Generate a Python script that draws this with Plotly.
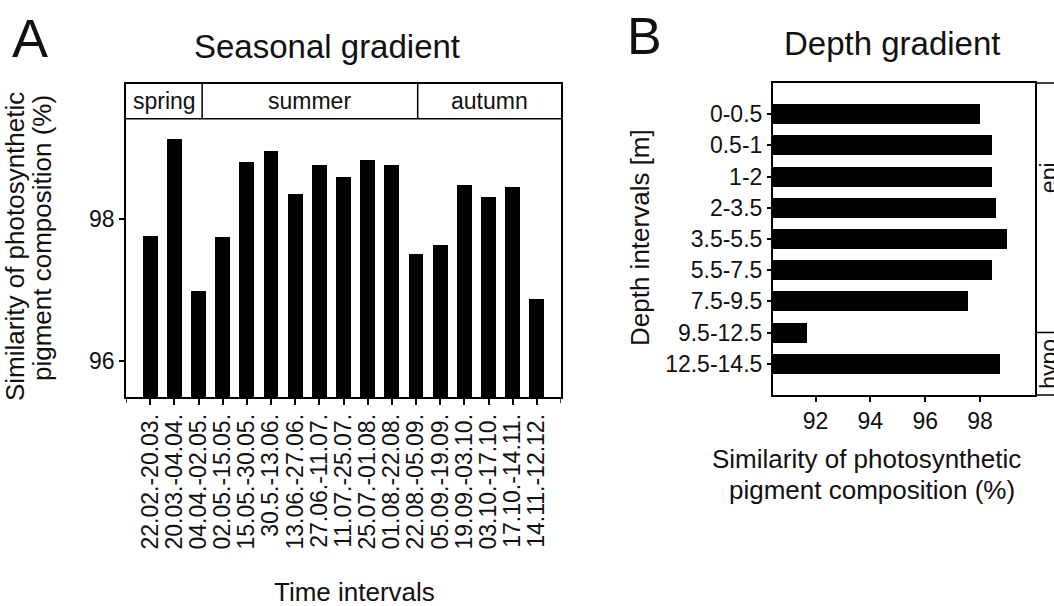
import plotly.graph_objects as go

# ---------------- data ----------------
time_intervals = ["22.02.-20.03.", "20.03.-04.04.", "04.04.-02.05.", "02.05.-15.05.",
                  "15.05.-30.05.", "30.5.-13.06.", "13.06.-27.06.", "27.06.-11.07.",
                  "11.07.-25.07.", "25.07.-01.08.", "01.08.-22.08.", "22.08.-05.09.",
                  "05.09.-19.09.", "19.09.-03.10.", "03.10.-17.10.", "17.10.-14.11.",
                  "14.11.-12.12."]
seasonal_similarity = [97.77, 99.13, 96.99, 97.75, 98.81, 98.97, 98.36, 98.76, 98.60,
                       98.84, 98.76, 97.51, 97.63, 98.49, 98.31, 98.46, 96.88]

seasons = ["spring", "summer", "autumn"]
season_bounds = [-1, 2.15, 11.07, 17]   # in category-index units

depth_intervals = ["0-0.5", "0.5-1", "1-2", "2-3.5", "3.5-5.5", "5.5-7.5",
                   "7.5-9.5", "9.5-12.5", "12.5-14.5"]
depth_similarity = [98.0, 98.42, 98.42, 98.56, 98.97, 98.42, 97.53, 91.67, 98.70]

strata = ["epi", "hypo"]
strata_label_pos = [2.05, 8.0]
strata_boundary = 7.0

seasonal_ticks = [96, 98]
depth_ticks = [92, 94, 96, 98]

# ---------------- layout helpers ----------------
W, H = 1054, 606
def px(x):
    return x / W
def py(y):
    return 1 - y / H

FONT = "Arial, 'Liberation Sans', sans-serif"
INK = "#111111"
LW = 1.5

fig = go.Figure()

fig.add_trace(go.Bar(x=time_intervals, y=seasonal_similarity, width=0.62,
                     marker=dict(color="black", line=dict(width=0)),
                     xaxis="x", yaxis="y", showlegend=False))
fig.add_trace(go.Bar(x=depth_similarity, y=depth_intervals, orientation="h", width=0.64,
                     marker=dict(color="black", line=dict(width=0)),
                     xaxis="x2", yaxis="y2", showlegend=False))

A_left, A_right, A_top, A_bottom = 126, 561, 84, 397
B_left, B_right, B_top, B_bottom = 772.7, 1035, 83, 395

y_lo, y_strip, y_hi = 95.49, 99.42, 99.91

fig.update_layout(
    width=W, height=H, autosize=False,
    margin=dict(l=0, r=0, t=0, b=0),
    paper_bgcolor="white", plot_bgcolor="white",
    font=dict(family=FONT, color=INK, size=23),
    bargap=0,
    xaxis=dict(domain=[px(A_left), px(A_right)], anchor="y",
               type="category", range=[-1, 17],
               tickmode="array", tickvals=time_intervals, ticktext=time_intervals,
               showline=True, linecolor="black", linewidth=LW, mirror=True,
               ticks="outside", ticklen=6, tickwidth=LW, tickcolor="black",
               tickangle=-90, tickfont=dict(size=23, family=FONT, color=INK),
               showgrid=False, zeroline=False),
    yaxis=dict(domain=[py(A_bottom), py(A_top)], anchor="x",
               range=[y_lo, y_hi], tickvals=seasonal_ticks,
               showline=True, linecolor="black", linewidth=LW, mirror=True,
               ticks="outside", ticklen=5, tickwidth=LW, tickcolor="black",
               tickfont=dict(size=23, family=FONT, color=INK),
               showgrid=False, zeroline=False),
    xaxis2=dict(domain=[px(B_left), px(B_right)], anchor="y2",
                range=[90.44, 100], tickvals=depth_ticks,
                showline=True, linecolor="black", linewidth=LW, mirror=True,
                ticks="outside", ticklen=5, tickwidth=LW, tickcolor="black",
                tickfont=dict(size=23, family=FONT, color=INK),
                showgrid=False, zeroline=False),
    yaxis2=dict(domain=[py(B_bottom), py(B_top)], anchor="x2",
                type="category", range=[9, -1],
                tickmode="array", tickvals=depth_intervals, ticktext=depth_intervals,
                showline=True, linecolor="black", linewidth=LW, mirror=True,
                ticks="outside", ticklen=4, tickwidth=LW, tickcolor="black",
                tickfont=dict(size=23, family=FONT, color=INK),
                showgrid=False, zeroline=False),
)

shapes = []
# season strip
shapes.append(dict(type="line", xref="x", yref="y", x0=-1, x1=17, y0=y_strip, y1=y_strip,
                   line=dict(color="black", width=LW)))
for b in season_bounds[1:-1]:
    shapes.append(dict(type="line", xref="x", yref="y", x0=b, x1=b, y0=y_strip, y1=y_hi,
                       line=dict(color="black", width=LW)))
# edge ticks of panel A x axis
for b in (-1, 17):
    shapes.append(dict(type="line", xref="x", yref="paper", x0=b, x1=b,
                       y0=py(A_bottom), y1=py(A_bottom + 6),
                       line=dict(color="black", width=LW)))
# strata strip right of panel B
for yy in (B_top, B_bottom):
    shapes.append(dict(type="line", xref="paper", yref="paper", x0=px(B_right), x1=1.02,
                       y0=py(yy), y1=py(yy), line=dict(color="black", width=LW)))
shapes.append(dict(type="line", xref="paper", yref="y2", x0=px(B_right), x1=1.02,
                   y0=strata_boundary, y1=strata_boundary,
                   line=dict(color="black", width=LW)))
fig.update_layout(shapes=shapes)

ann = []
def text(x, y, t, size, angle=0, xref="paper", yref="paper", xanchor="center"):
    ann.append(dict(x=x, y=y, xref=xref, yref=yref, text=t, showarrow=False,
                    textangle=angle, xanchor=xanchor, yanchor="middle",
                    font=dict(size=size, family=FONT, color=INK)))

# season labels
for name, a, b in zip(seasons, season_bounds[:-1], season_bounds[1:]):
    text((a + b) / 2, (y_strip + y_hi) / 2, name, 23, xref="x", yref="y")
# strata labels (partly cut off at the right edge, as in the original)
for name, pos in zip(strata, strata_label_pos):
    text(px(1049), pos, name, 23, angle=-90, yref="y2")

# panel letters and titles
text(px(30), py(38), "A", 54)
text(px(644), py(36), "B", 52)
text(px(327), py(46), "Seasonal gradient", 33)
text(px(892), py(43), "Depth gradient", 33)

# axis titles
text(px(15), py(247), "Similarity of photosynthetic", 26, angle=-90)
text(px(42), py(238), "pigment composition (%)", 26, angle=-90)
text(px(354), py(592), "Time intervals", 26)
text(px(640), py(238), "Depth intervals [m]", 26, angle=-90)
text(px(866), py(459), "Similarity of photosynthetic", 26)
text(px(872), py(490), "pigment composition (%)", 26)

fig.update_layout(annotations=ann)

fig.write_html("out.html", config={"displayModeBar": False},
               post_script="document.body.style.margin='0px';document.body.style.padding='0px';")
